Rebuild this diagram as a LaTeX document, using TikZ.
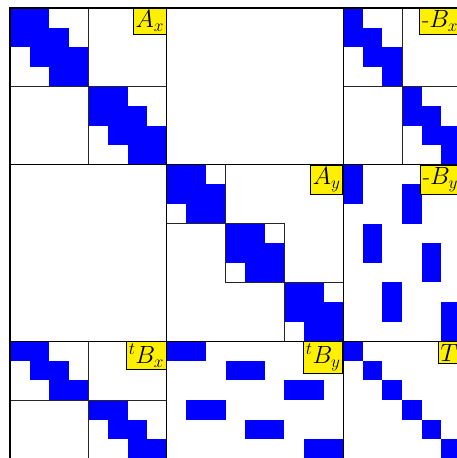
\documentclass[tikz,border=0pt]{standalone}
\usepackage{amsmath}
\tikzset{
  cellfill/.style={fill={rgb,255:red,0;green,0;blue,255}, draw=none},
  blockline/.style={draw=black, line width=1pt},
  subline/.style={draw=black!85, line width=0.7pt},
  frameline/.style={draw=black, line width=1.6pt},
  tag/.style={fill={rgb,255:red,255;green,240;blue,0}, draw=black, line width=0.8pt,
    inner sep=2.4pt, anchor=north east, font=\fontsize{24}{28}\selectfont}
}
\newcommand{\cellrow}[3]{\fill[cellfill] (#2,#1) rectangle (#3,#1+1);}
\newcommand{\onecell}[2]{\fill[cellfill] (#2,#1) rectangle (#2+1,#1+1);}
\begin{document}
\begin{tikzpicture}[x=19.6pt, y=-19.6pt]
\useasboundingbox (-0.5102,-0.408) rectangle (22.755,22.959);
% ---------- A_x : two 4x4 tridiagonal blocks
\foreach \o in {0,4}{
  \cellrow{\o+0}{\o+0}{\o+2}
  \cellrow{\o+1}{\o+0}{\o+3}
  \cellrow{\o+2}{\o+1}{\o+4}
  \cellrow{\o+3}{\o+2}{\o+4}
}
% ---------- A_y : three 3x3 tridiagonal blocks
\foreach \o in {8,11,14}{
  \cellrow{\o+0}{\o+0}{\o+2}
  \cellrow{\o+1}{\o+0}{\o+3}
  \cellrow{\o+2}{\o+1}{\o+3}
}
% ---------- -B_x : two 4x3 bidiagonal blocks
\foreach \r/\c in {0/17, 4/20}{
  \cellrow{\r+0}{\c+0}{\c+1}
  \cellrow{\r+1}{\c+0}{\c+2}
  \cellrow{\r+2}{\c+1}{\c+3}
  \cellrow{\r+3}{\c+2}{\c+3}
}
% ---------- -B_y
\foreach \r/\c in {8/17,9/17,9/20,10/20,11/18,12/18,12/21,13/21,14/19,15/19,15/22,16/22}{
  \onecell{\r}{\c}
}
% ---------- tB_x
\foreach \r/\c in {17/0,18/1,19/2,20/4,21/5,22/6}{
  \cellrow{\r}{\c}{\c+2}
}
% ---------- tB_y
\foreach \r/\c in {17/8,18/11,19/14,20/9,21/12,22/15}{
  \cellrow{\r}{\c}{\c+2}
}
% ---------- T : diagonal
\foreach \i in {17,...,22}{
  \onecell{\i}{\i}
}
% ---------- sub-block outlines
\draw[subline] (0,0) rectangle (4,4);
\draw[subline] (4,4) rectangle (8,8);
\draw[subline] (8,8) rectangle (11,11);
\draw[subline] (11,11) rectangle (14,14);
\draw[subline] (14,14) rectangle (17,17);
\draw[subline] (17,0) rectangle (20,4);
\draw[subline] (20,4) rectangle (23,8);
\draw[subline] (0,17) rectangle (4,20);
\draw[subline] (4,20) rectangle (8,23);
% ---------- block outlines
\draw[blockline] (8,0) -- (8,23);
\draw[blockline] (17,0) -- (17,23);
\draw[blockline] (0,8) -- (23,8);
\draw[blockline] (0,17) -- (23,17);
\draw[frameline] (0,0) rectangle (23,23);
% ---------- labels
\node[tag] (lax) at (8,0) {$A_x$};
\node[tag] (lay) at (17,8) {$A_y$};
\node[tag] (lbx) at (23,0) {-$B_x$};
\node[tag] (lby) at (23,8) {-$B_y$};
\node[tag] (ltbx) at (8,17) {$^tB_x$};
\node[tag] (ltby) at (17,17) {$^tB_y$};
\node[tag] (lt) at (23,17) {$T$};
\end{tikzpicture}
\end{document}
